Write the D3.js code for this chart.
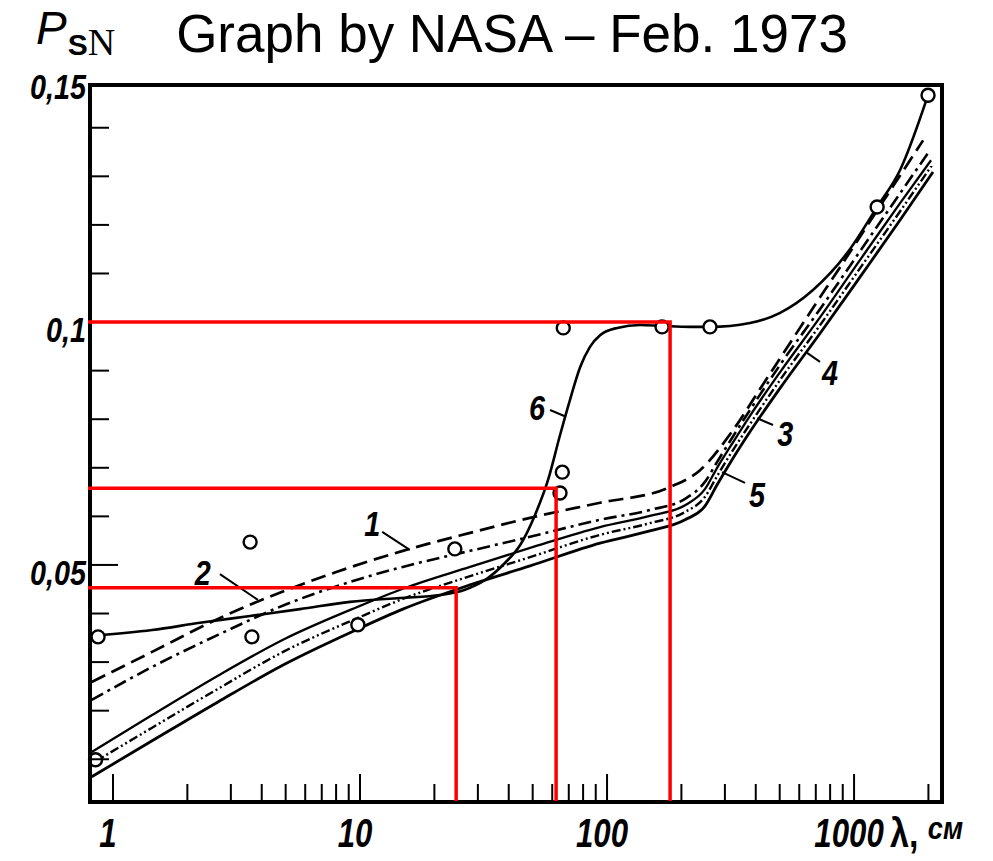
<!DOCTYPE html>
<html>
<head>
<meta charset="utf-8">
<script src="https://cdn.jsdelivr.net/npm/d3@7/dist/d3.min.js"></script>
<style>
  body { margin: 0; background: #fff; }
</style>
</head>
<body>
<div id="chart"></div>
<script>
// reflectance rho_SN vs wavelength lambda (cm), curves 1..6 + measured points

width = 993;
height = 861;

// frame extents (data units)
let lamMin = 0.807, lamMax = 2270;
let rhoMin = 0.0012, rhoMax = 0.1488;

// curve 1 - dashed
let lam1 = [0.82, 1.44, 2.66, 4.97, 8.07, 14.9, 27.9, 48.8, 93.7, 175, 238, 324, 416, 551, 682, 878, 1129, 1466, 1903];
let rho1 = [0.0259, 0.0321, 0.0389, 0.0447, 0.0486, 0.0529, 0.0566, 0.0597, 0.0628, 0.0658, 0.0695, 0.0778, 0.0862, 0.0957, 0.1029, 0.1113, 0.1198, 0.1286, 0.1374];

// curve 2 - dash-dot
let lam2 = [0.82, 1.44, 2.66, 4.97, 9.37, 14.9, 27.9, 48.8, 93.7, 149, 207, 249, 279, 324, 379, 502, 729, 1058, 1536, 2031];
let rho2 = [0.0222, 0.0290, 0.0356, 0.0418, 0.0467, 0.0496, 0.0529, 0.0558, 0.0593, 0.0613, 0.0636, 0.0671, 0.0712, 0.0765, 0.0819, 0.0912, 0.1027, 0.1146, 0.1265, 0.1354];

// curves 3, 4, 5 - lower bundle
let lam3 = [0.82, 1.44, 2.66, 4.97, 9.81, 14.9, 27.9, 48.8, 93.7, 149, 207, 249, 279, 324, 379, 502, 729, 1058, 1536, 2069];
let rho3 = [0.0091, 0.0165, 0.0245, 0.0323, 0.0391, 0.0430, 0.0477, 0.0516, 0.0562, 0.0586, 0.0609, 0.0640, 0.0683, 0.0737, 0.0790, 0.0881, 0.0994, 0.1111, 0.1228, 0.1323];

let lam4 = [0.82, 1.44, 2.66, 4.97, 9.81, 14.9, 27.9, 48.8, 93.7, 149, 207, 249, 279, 324, 379, 502, 729, 1058, 1536, 2089];
let rho4 = [0.0064, 0.0138, 0.0218, 0.0296, 0.0368, 0.0409, 0.0459, 0.0498, 0.0545, 0.0570, 0.0593, 0.0621, 0.0665, 0.0720, 0.0774, 0.0864, 0.0977, 0.1093, 0.1210, 0.1309];

let lam5 = [0.82, 1.44, 2.66, 4.97, 9.81, 14.9, 27.9, 48.8, 93.7, 149, 207, 249, 279, 324, 379, 502, 729, 1058, 1536, 2050];
let rho5 = [0.0115, 0.0191, 0.0272, 0.0348, 0.0414, 0.0451, 0.0496, 0.0535, 0.0578, 0.0601, 0.0623, 0.0656, 0.0700, 0.0753, 0.0807, 0.0897, 0.1010, 0.1128, 0.1245, 0.1333];

// curve 6 - solid through the circles
let lam6 = [0.82, 1.44, 2.25, 3.59, 5.71, 9.11, 14.5, 21.1, 26.6, 32.1, 38.6, 44.5, 51.1, 57.7, 64.5, 70.8, 77.8, 85.3, 93.7, 110, 136, 167, 217, 261, 379, 502, 682, 937, 1240, 1536, 1993];
let rho6 = [0.0354, 0.0366, 0.0381, 0.0395, 0.0409, 0.0424, 0.0432, 0.0438, 0.0449, 0.0469, 0.0504, 0.0541, 0.0603, 0.0675, 0.0767, 0.0840, 0.0907, 0.0949, 0.0973, 0.0988, 0.0994, 0.0992, 0.0990, 0.0990, 0.0998, 0.1019, 0.1066, 0.1142, 0.1237, 0.1313, 0.1467];

// measured points (open circles)
let ptLam = [0.87, 0.85, 3.59, 3.65, 9.8, 24.2, 64.5, 65.9, 66.5, 167, 261, 1240, 1993];
let ptRho = [0.0352, 0.0099, 0.0547, 0.0352, 0.0377, 0.0533, 0.0648, 0.0691, 0.0988, 0.0990, 0.0990, 0.1237, 0.1467];

// curve number labels and their leader lines
let labText = ["1", "2", "3", "4", "5", "6"];
let labLam = [11.2, 2.31, 526, 800, 405, 52.1];
let labRho = [0.0586, 0.0486, 0.0772, 0.0897, 0.0646, 0.0825];
let leadLam0 = [12.3, 2.71, 470, 728, 362, 58.8];
let leadRho0 = [0.0568, 0.0481, 0.0788, 0.0918, 0.0669, 0.0819];
let leadLam1 = [15.9, 3.86, 405, 639, 292, 68.2];
let leadRho1 = [0.0531, 0.0428, 0.0802, 0.0938, 0.0691, 0.0805];

// red read-off lines
let redLam = [24.5, 62.2, 180];
let redRho = [0.0453, 0.0658, 0.100];

// tick labels
let xTickVals = [1, 10, 100, 1000];
let xTickText = ["1", "10", "100", "1000"];
let yTickVals = [0.15, 0.1, 0.05];
let yTickText = ["0,15", "0,1", "0,05"];

let x = d3.scaleLog().domain([lamMin, lamMax]).range([90, 942]);
let y = d3.scaleLinear().domain([rhoMin, rhoMax]).range([802, 85]);

let svg = d3.select("#chart")
  .append("svg")
  .attr("width", width)
  .attr("height", height)
  .style("font-family", "'Liberation Sans', Arial, sans-serif");

// curves
let curves = [
  { lam: lam1, rho: rho1, dash: "15,7", w: 2.7 },
  { lam: lam2, rho: rho2, dash: "13,5,3,5", w: 2.6 },
  { lam: lam3, rho: rho3, dash: "9,3,2,3,2,3", w: 2.4 },
  { lam: lam4, rho: rho4, dash: null, w: 2.8 },
  { lam: lam5, rho: rho5, dash: null, w: 2.3 },
  { lam: lam6, rho: rho6, dash: null, w: 2.6 }
];

let line = d3.line()
  .x(d => x(d[0]))
  .y(d => y(d[1]))
  .curve(d3.curveMonotoneX);

curves.forEach(c => {
  svg.append("path")
    .datum(d3.zip(c.lam, c.rho))
    .attr("d", line)
    .attr("fill", "none")
    .attr("stroke", "black")
    .attr("stroke-width", c.w)
    .attr("stroke-dasharray", c.dash);
});

// points
svg.selectAll("circle.pt")
  .data(d3.zip(ptLam, ptRho))
  .enter().append("circle")
  .attr("class", "pt")
  .attr("cx", d => x(d[0]))
  .attr("cy", d => y(d[1]))
  .attr("r", 6.5)
  .attr("fill", "white")
  .attr("stroke", "black")
  .attr("stroke-width", 2.4);

// curve labels
labText.forEach((t, i) => {
  svg.append("line")
    .attr("x1", x(leadLam0[i])).attr("y1", y(leadRho0[i]))
    .attr("x2", x(leadLam1[i])).attr("y2", y(leadRho1[i]))
    .attr("stroke", "black")
    .attr("stroke-width", 2);
  svg.append("g")
    .attr("transform", "translate(" + x(labLam[i]) + "," + (y(labRho[i]) + 13) + ") scale(0.8,1)")
    .append("text")
    .attr("text-anchor", "middle")
    .attr("font-size", 36)
    .attr("font-style", "italic")
    .attr("font-weight", "bold")
    .text(t);
});

// frame
svg.append("rect")
  .attr("x", x(lamMin))
  .attr("y", y(rhoMax))
  .attr("width", x(lamMax) - x(lamMin))
  .attr("height", y(rhoMin) - y(rhoMax))
  .attr("fill", "none")
  .attr("stroke", "black")
  .attr("stroke-width", 4);

// x ticks (inside, from bottom)
let xTicks = x.ticks().filter(v => v >= 1);
svg.selectAll("line.xt")
  .data(xTicks)
  .enter().append("line")
  .attr("class", "xt")
  .attr("x1", d => x(d)).attr("x2", d => x(d))
  .attr("y1", y(rhoMin))
  .attr("y2", d => y(rhoMin) - (Math.abs(Math.log10(d) % 1) < 1e-9 ? 28 : 18))
  .attr("stroke", "black")
  .attr("stroke-width", 2);

// y ticks (inside, from left)
let yTicks = d3.range(1, 15).map(k => k / 100);
svg.selectAll("line.yt")
  .data(yTicks)
  .enter().append("line")
  .attr("class", "yt")
  .attr("x1", x(lamMin))
  .attr("x2", d => x(lamMin) + ((Math.round(d * 100) % 5 === 0) ? 28 : 19))
  .attr("y1", d => y(d)).attr("y2", d => y(d))
  .attr("stroke", "black")
  .attr("stroke-width", 2);

// tick labels
xTickVals.forEach((v, i) => {
  svg.append("g")
    .attr("transform", "translate(" + (x(v) - 5) + ",847) scale(0.78,1)")
    .append("text")
    .attr("text-anchor", "middle")
    .attr("font-size", 40)
    .attr("font-style", "italic")
    .attr("font-weight", "bold")
    .text(xTickText[i]);
});

yTickVals.forEach((v, i) => {
  svg.append("g")
    .attr("transform", "translate(86," + (y(v) + 20) + ") scale(0.8,1)")
    .append("text")
    .attr("text-anchor", "end")
    .attr("font-size", 36)
    .attr("font-style", "italic")
    .attr("font-weight", "bold")
    .text(yTickText[i]);
});

// axis titles
let xt = svg.append("g")
  .attr("transform", "translate(890,847) scale(0.85,1)")
  .append("text")
  .attr("font-size", 40)
  .attr("font-weight", "bold");
xt.append("tspan").text("λ");
xt.append("tspan").text(", ");
xt.append("tspan").attr("font-size", 32).attr("dy", -8).attr("font-style", "italic").text("см");

let yt = svg.append("text")
  .attr("x", 36)
  .attr("y", 44);
yt.append("tspan")
  .attr("font-size", 46)
  .attr("font-style", "italic")
  .text("P");
yt.append("tspan")
  .attr("font-size", 30)
  .attr("font-weight", "bold")
  .attr("dx", 1)
  .attr("dy", 11)
  .text("S");
yt.append("tspan")
  .attr("font-size", 38)
  .attr("font-family", "'Liberation Serif', serif")
  .text("N");

// title
svg.append("text")
  .attr("x", 512)
  .attr("y", 52)
  .attr("text-anchor", "middle")
  .attr("font-size", 53)
  .text("Graph by NASA – Feb. 1973");

// red read-off lines
redLam.forEach((v, i) => {
  svg.append("path")
    .attr("d", "M" + (x(lamMin) - 2) + "," + y(redRho[i]) +
               "H" + x(v) + "V" + (y(rhoMin) - 1))
    .attr("fill", "none")
    .attr("stroke", "#ff0000")
    .attr("stroke-width", 3.5);
});
</script>
</body>
</html>
